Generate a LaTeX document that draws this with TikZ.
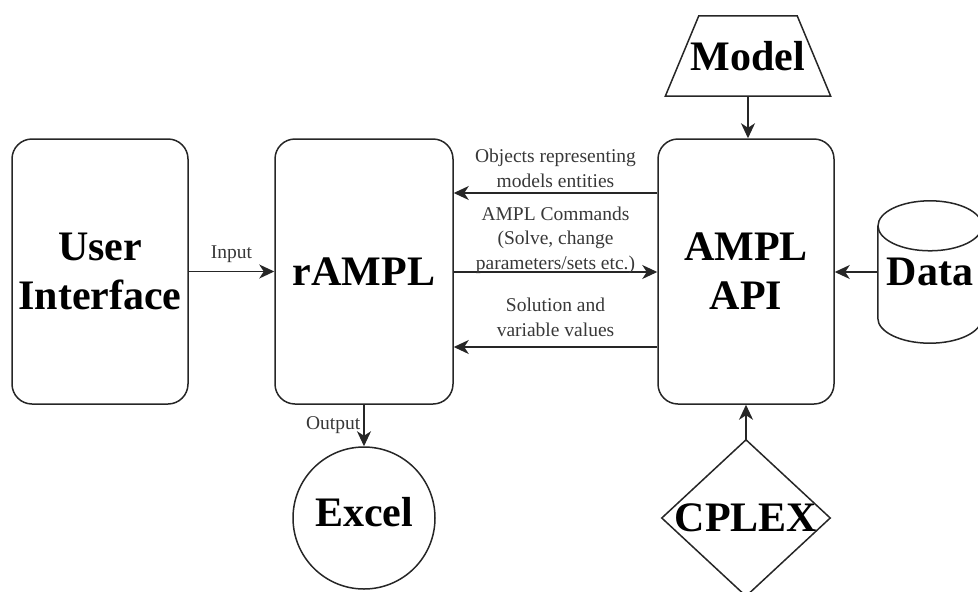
\documentclass[tikz,border=0pt]{standalone}
\usepackage{fontspec}
\setmainfont{Liberation Serif}
\usetikzlibrary{arrows.meta}
\definecolor{lc}{HTML}{262626}
\definecolor{tc}{HTML}{383838}
\begin{document}
\begin{tikzpicture}[x=1pt,y=-1pt,
  big/.style={font=\bfseries\fontsize{42}{49}\selectfont, align=center, inner sep=0pt},
  box/.style={big, draw=lc, line width=1.5pt, rounded corners=20pt, minimum width=176pt, minimum height=265pt},
  lbl/.style={font=\fontsize{19.5}{24.5}\selectfont, text=tc, align=center, inner sep=0pt},
  shp/.style={draw=lc, line width=1.5pt},
  arr/.style={draw=lc, line width=1.5pt, -{Stealth[length=15pt,width=14pt,inset=4.5pt]}}]
\useasboundingbox (0,0) rectangle (978,592);

\node[box] (ui) at (100,271.5) {User\\Interface};
\node[box, minimum width=178pt] (rampl) at (364,271.5) {rAMPL};
\node[box] (ampl) at (746,271.5) {AMPL\\API};

% Model trapezoid
\node[big, minimum width=165pt, minimum height=80pt] (model) at (748,56) {Model};
\draw[shp] (model.south west) -- (model.south east) -- ([xshift=-33.5pt]model.north east) -- ([xshift=33.5pt]model.north west) -- cycle;

% Data cylinder
\node[big, minimum width=104pt, minimum height=142pt] (data) at (930,272) {Data};
\draw[shp] ([yshift=-25pt]data.north west) -- ([yshift=25pt]data.south west)
  arc[start angle=180, end angle=360, x radius=52pt, y radius=25pt]
  -- ([yshift=-25pt]data.north east);
\draw[shp] ([yshift=-25pt]data.north) ellipse[x radius=52pt, y radius=25pt];

% CPLEX diamond
\node[big, minimum width=168pt, minimum height=156pt] (cplex) at (746,518) {CPLEX};
\draw[shp] (cplex.north) -- (cplex.east) -- (cplex.south) -- (cplex.west) -- cycle;

% Excel circle
\node[shape=circle, draw=lc, line width=1.5pt, minimum size=142pt, inner sep=0pt] (excel) at (364,518) {};
\node[big] (exceltext) at (364,512) {Excel};

% connectors
\draw[arr] (ui.east) -- node[lbl, midway, yshift=17pt] {Input} (rampl.west);
\draw[arr] ([yshift=78.5pt]ampl.west) -- node[lbl, midway, yshift=24.5pt] {Objects representing\\models entities} ([yshift=78.5pt]rampl.east);
\draw[arr] ([yshift=-0.5pt]rampl.east) -- node[lbl, midway, yshift=32pt] {AMPL Commands\\(Solve, change\\parameters/sets etc.)} ([yshift=-0.5pt]ampl.west);
\draw[arr] ([yshift=-75.5pt]ampl.west) -- node[lbl, midway, yshift=29.5pt] {Solution and\\variable values} ([yshift=-75.5pt]rampl.east);
\draw[arr] (rampl.south) -- node[lbl, midway, left=3pt] {Output} (excel.north);
\draw[arr] (model.south) -- (model.south |- ampl.north);
\draw[arr] (data.west) -- (data.west -| ampl.east);
\draw[arr] (cplex.north) -- (ampl.south);
\end{tikzpicture}
\end{document}
